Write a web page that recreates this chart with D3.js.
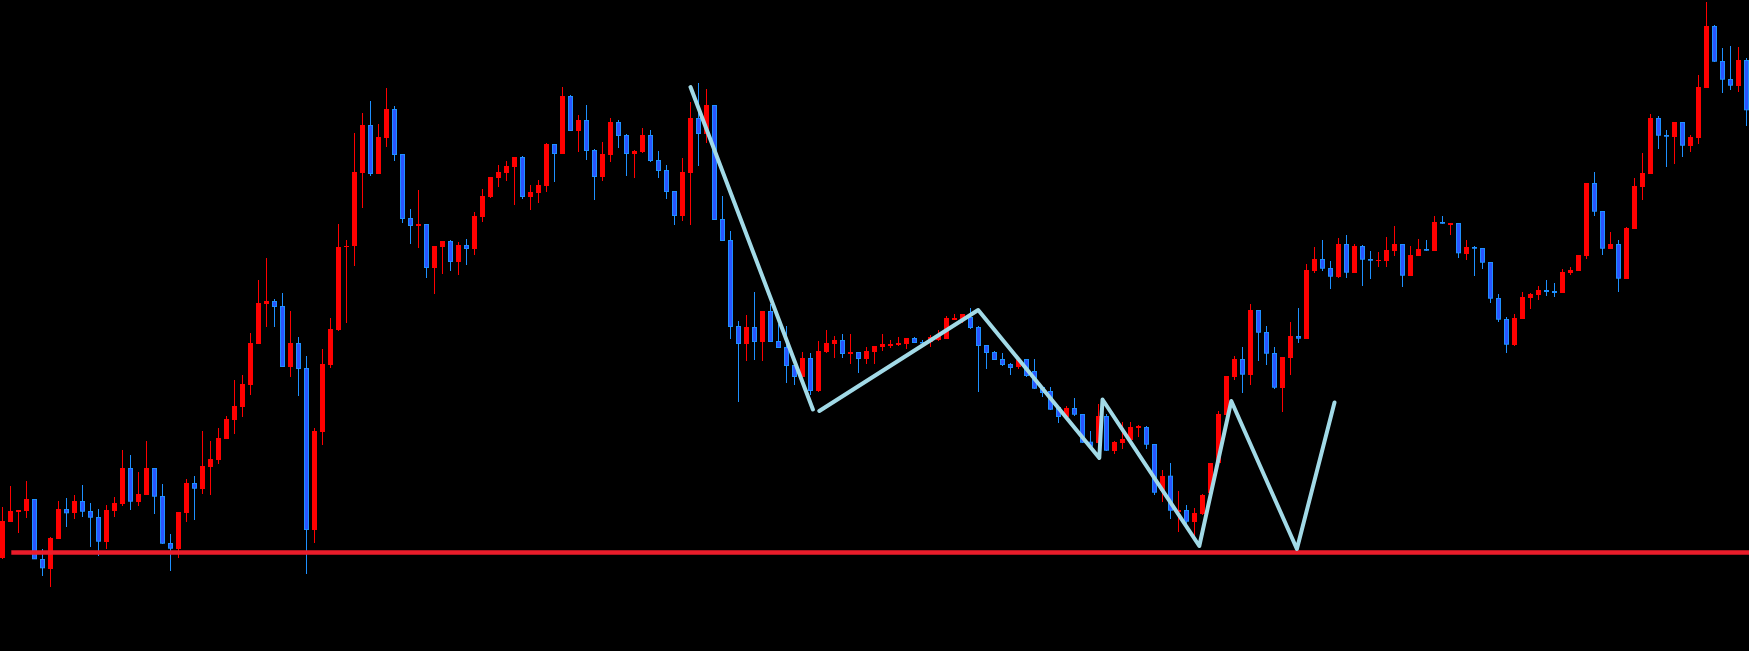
<!DOCTYPE html>
<html>
<head>
<meta charset="utf-8">
<script src="https://cdn.jsdelivr.net/npm/d3@7"></script>
<style>
html,body{margin:0;padding:0;background:#000;overflow:hidden}
svg{display:block}
</style>
</head>
<body>
<script>
// Candle OHLC values (index = bar number)
const open = [142.3,178.3,188.3,189.3,201,141,131.3,161.3,191,186.7,199,189,183,158.3,189,196,232,198.3,204.7,232,204,157,151,187.3,217,211.3,233.3,240.3,261,280,293,315,356,396.3,399,394,333,357,332,170,268,335,370,452.7,454.3,527,575,526,562,591,546,482,474,476,432,453,459,438,455,451,483,503,522,527,533,543,503,507,514,556,546,604,569,580,550,523,545,578,565,546,548,565,540,530,509,484,527,582,566,595,481,460,374,356,373,358,389,359,353,335,323,342,309,348,356,360,346,348,341,348,353,355,355,356,362,358,358,360,361,380.7,380,383,373,355,348,341,336,333,341,329,313,309,293,283,292,286,258.3,257.3,284,249.3,257.3,260.3,272.3,273,256,209.3,224.3,188.7,190,178.3,186,206.7,236.7,285.3,323,341,325.3,390,368,347,312.3,342.3,364,361.3,429.3,441,432,423,456,427.3,454,441,439,439,449.3,456,424.3,444.3,451,449.3,478,476,477,446.3,453,452,438,402,381,354.7,381,402,405,410,409,407,427,429,444,517,489,451.3,456,421.3,471.3,513.3,526.3,582,565,563.3,578,554.3,562.3,612.3,674,639,621,614.3,640];
const high = [193,214,190,219,201,151,163.3,199,202.3,205,215,197,191,195,203,250,245,228,259,232,216,166,188,221,224,269,259,272,284,320,325,367,420,442,401,407,389,363,344,272,351,382,476,460,567,587,599,576,612,594,546,491,510,476,454,459,460,458,461,488,511,523,535,539,543,544,515,520,557,556,613,605,585,595,551,558,582,580,566,550,572,570,549,535,509,542,598,617,611,595,504,469,379,385,408,389,396,376,374,340,348,347,359,370,364,366,366,348,353,354,366,360,363,362,363,360,365,370,384,386,386,392,374,355,349,347,337,341,341,341,314,313,293,294,302,286,269,296,286,259,278,278,275,274,256,230.3,237,209,195.3,192.3,206,237,289,324,344,353,396,390,374,353,343,378,392,436,453,460,439,462,465,456,455,449,448,463,474,456,454,461,460,484,484,477,477,460,454,452,438,406,383,386,408,407,414,420,417,431,433,445,517,528,489,468,460,473,522,547,586,584,570,578,578,565,625,698,675,652,654,653,642];
const low = [140.7,178.3,167.3,182.3,140.7,124.3,113.3,161.3,173.3,181.3,183.3,153.3,144.3,151,183,194,190.3,194,204.7,186.3,156.3,129.3,142.3,178.3,180.3,206.3,205.3,236.3,261,266,283,305,356,373,373,333,323,304,126,157,255,332,369,377,434.3,492.3,524,526,553,539,477,456,452,422,406,426,429,425,435,445,478,502,513,519,495,501,490,497,508,518,546,569,548,540,500,519,538,552,524,522,547,538,522,501,475,479,475,534,557,480,459,361,298,339,340,339,358,352,317,315,323,305,308,347,342,342,336,327,336,336,349,352,354,351,357,356,353,359,361,380,377,371,308,331,340,334,325,331,323,311.3,303,290.3,277.3,283,284.3,257.3,252.3,257.3,249.3,246.3,251.3,260.3,263.3,251.3,205.3,198.3,181.3,168.3,171.7,163.3,185,205,236.7,285.3,320,307,315,339,335,311.3,288,325,357,361.3,427.3,429.3,411.3,422,422,427.3,414.3,421.3,433.3,433,444.3,413.3,424.3,444.3,449.3,449.3,476.3,465.3,442.3,440.3,424.3,431.3,397.3,378.3,347.3,354,381,391,400,404,403,407,425,429,441,484.3,445.3,451.3,408.3,421.3,471.3,500.3,526.3,551.3,533.3,536.3,543.3,548.3,556.3,612.3,638.3,607.3,610.3,608.3,574.3];
const close = [179,189,190,201,140.7,131.7,162,191,186.7,199,188.3,182.3,158.3,190,197,232,198.3,206,232,203.3,156.3,151.3,188,217,211.3,234,241,262,281,294,316,357,397,399,393,333,357,331,170,269,336,371,453,454.3,528,575,526,563,591,545,481,474,476,432,454,459,438,455,451,484,504,523,528,534,543,503,508,515,556,546,604,569,580,549,523,546,578,564,546,549,565,539,529,508,484,528,582,566,595,480,459,373,356,373,358,389,358,352,334,323,342,309,349,357,360,346,348,341,349,354,356,356,357,362,357,356.7,363,365,382,382,386,372,354,347,340,335,332,340,324,311.3,307,290.3,283,292,285.3,257.3,253.3,284,249.3,258,261,273,273.7,255.3,207.3,224.3,189.3,190,178.3,187.3,205,237,286,324,341,325.3,390,367.3,346.3,312.3,343,364,361.3,430,441,431.3,423.3,456,427.3,454,440.3,439.3,440.3,450,456,424.3,445,451,449.3,478,476.3,477,446.7,453,451.3,437.3,401.3,380.3,355.3,382,403,406,410,408,407,428,430,445,517,488.3,451.3,456,421.3,472,514,527,582,564.3,563.3,578,554.3,563,613,674,638.3,620.3,614.3,640,589.7];

// Support level (horizontal red line) and its starting bar
const supportLevel = 147.5;
const supportStart = 1.1;

// Zigzag trend segments: [bar index, price] pairs
const zigzagSegments = [
  [[86.0, 613], [101.3, 290.5]],
  [[102.1, 289], [121.96, 390], [137.1, 242], [137.5, 300.5], [149.6, 154], [153.6, 299], [161.8, 151], [166.5, 297.5]]
];

const W = 1749, H = 651;
const svg = d3.select("body").append("svg").attr("width", W).attr("height", H)
  .style("background", "#000");

const x = d3.scaleLinear().domain([0, open.length - 1]).range([2.5, 2.5 + 8 * (open.length - 1)]);
const y = d3.scaleLinear().domain([0, 700]).range([700, 0]);

const data = open.map((o, i) => ({i, o, h: high[i], l: low[i], c: close[i]}));

const UP = "#ff0000", DOWN_FILL = "#2a55ff", DOWN_EDGE = "#1e90ff";

const g = svg.append("g");
// wicks
g.selectAll("line.wick").data(data).join("line")
  .attr("class", "wick")
  .attr("x1", d => x(d.i)).attr("x2", d => x(d.i))
  .attr("y1", d => y(d.h)).attr("y2", d => y(d.l))
  .attr("stroke", d => d.c >= d.o ? UP : DOWN_EDGE)
  .attr("stroke-width", 1)
  .attr("shape-rendering", "crispEdges");

// bodies
g.selectAll("rect.up").data(data.filter(d => d.c >= d.o)).join("rect")
  .attr("class", "up")
  .attr("x", d => x(d.i) - 2.5)
  .attr("width", 5)
  .attr("y", d => y(d.c))
  .attr("height", d => Math.max(1.5, y(d.o) - y(d.c)))
  .attr("fill", UP)
  .attr("shape-rendering", "crispEdges");

g.selectAll("rect.down").data(data.filter(d => d.c < d.o)).join("rect")
  .attr("class", "down")
  .attr("x", d => x(d.i) - 2)
  .attr("width", 4)
  .attr("y", d => y(d.o) + 0.5)
  .attr("height", d => Math.max(0.5, y(d.c) - y(d.o) - 1))
  .attr("fill", DOWN_FILL)
  .attr("stroke", DOWN_EDGE)
  .attr("stroke-width", 1);

// support line
svg.append("line")
  .attr("x1", x(supportStart)).attr("x2", W)
  .attr("y1", y(supportLevel)).attr("y2", y(supportLevel))
  .attr("stroke", "#ea1c2a").attr("stroke-width", 4.6);

// zigzag
const line = d3.line().x(p => x(p[0])).y(p => y(p[1]));
svg.selectAll("path.zz").data(zigzagSegments).join("path")
  .attr("class", "zz")
  .attr("d", line)
  .attr("fill", "none")
  .attr("stroke", "#a2dae7")
  .attr("stroke-width", 4)
  .attr("stroke-linecap", "round")
  .attr("stroke-linejoin", "round");
</script>
</body>
</html>
